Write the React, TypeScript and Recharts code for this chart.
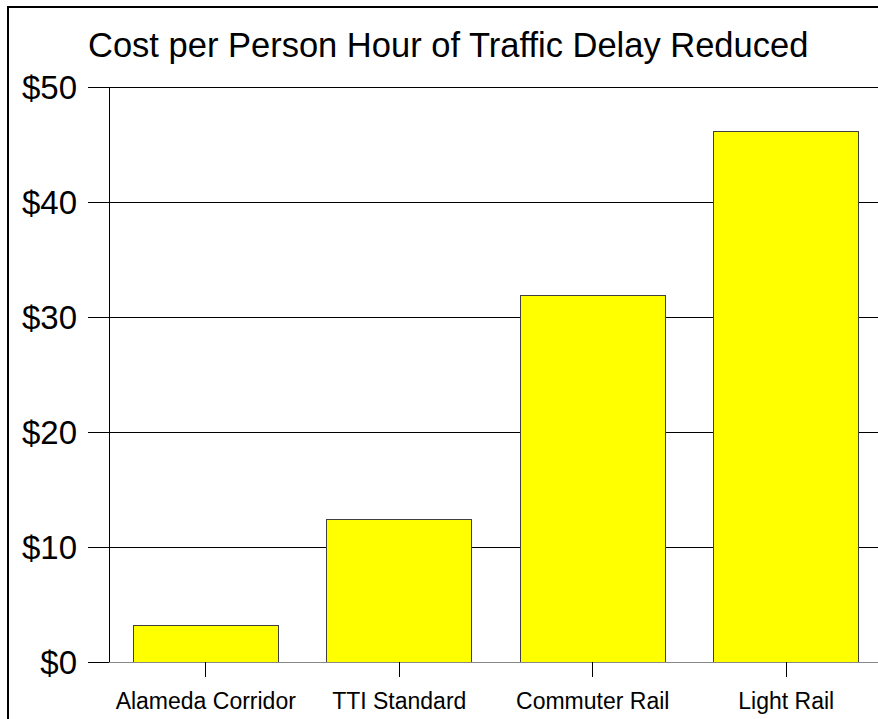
import React from "react";
import { BarChart, Bar, XAxis, YAxis, CartesianGrid } from "recharts";

// values
const categories = ["Alameda Corridor", "TTI Standard", "Commuter Rail", "Light Rail"];
const costs = [3.2, 12.4, 31.9, 46.1];
const yTicks = [0, 10, 20, 30, 40, 50];

const data = categories.map((name, i) => ({ name, cost: costs[i] }));

const font = "Arial, 'Liberation Sans', sans-serif";

const App: React.FC = () => {
  return (
    <div
      style={{
        position: "absolute",
        left: 0,
        top: 0,
        width: 878,
        height: 719,
        overflow: "hidden",
        background: "#fff",
        fontFamily: font,
      }}
    >
      <style>{`.recharts-surface line, .recharts-surface path { shape-rendering: crispEdges; }`}</style>
      {/* outer frame, runs off the right and bottom edges */}
      <div
        style={{
          position: "absolute",
          left: 7,
          top: 6,
          width: 920,
          height: 780,
          border: "2px solid #000",
        }}
      />
      <div
        style={{
          position: "absolute",
          left: 88,
          top: 28,
          fontSize: 34.5,
          lineHeight: "34px",
          whiteSpace: "nowrap",
          color: "#000",
        }}
      >
        Cost per Person Hour of Traffic Delay Reduced
      </div>
      <div style={{ position: "absolute", left: 0, top: 0 }}>
        <BarChart
          width={900}
          height={719}
          data={data}
          margin={{ top: 87, right: 17, left: 0, bottom: 0 }}
          barCategoryGap="12.5%"
        >
          <CartesianGrid vertical={false} stroke="#000" strokeOpacity={1} />
          <XAxis
            dataKey="name"
            height={57}
            axisLine={{ stroke: "#888" }}
            tickLine={{ stroke: "#000" }}
            tickSize={15}
            tickMargin={16}
            tick={{ fill: "#000", fontSize: 23, fontFamily: font }}
          />
          <YAxis
            width={109}
            domain={[0, 50]}
            ticks={yTicks}
            interval={0}
            tickFormatter={(v: number) => `$${v}`}
            axisLine={{ stroke: "#000" }}
            tickLine={{ stroke: "#000" }}
            tickSize={21}
            tickMargin={11}
            tick={{ fill: "#000", fontSize: 33, fontFamily: font }}
          />
          <Bar
            dataKey="cost"
            fill="#ffff00"
            stroke="#404040"
            strokeWidth={1}
            isAnimationActive={false}
          />
        </BarChart>
      </div>
    </div>
  );
};

export default App;
